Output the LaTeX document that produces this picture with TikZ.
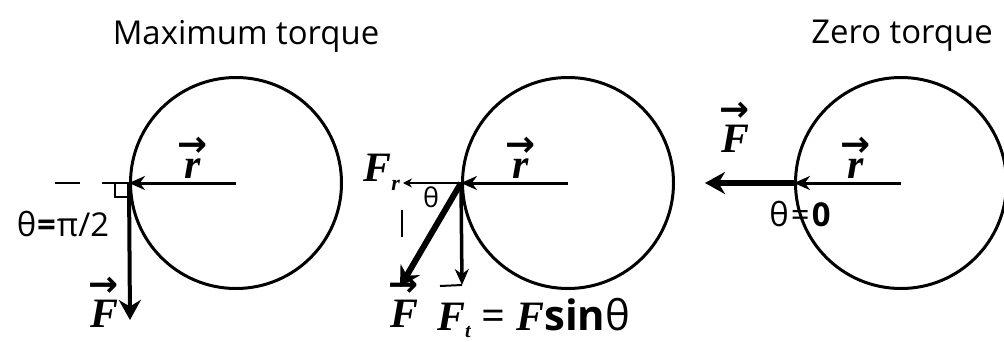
\documentclass[tikz,border=0pt]{standalone}
\usepackage{fontspec}
\setmainfont{Open Sans}
\newfontfamily\vecfont{Liberation Serif}
\newfontfamily\arrowfont{DejaVu Sans}
\usetikzlibrary{arrows.meta}

\newcommand{\bfi}[1]{{\vecfont\bfseries\itshape #1}}
\newcommand{\vbf}[2][-24bp]{\begin{tabular}{@{}c@{}}\fontsize{36}{36}\selectfont\arrowfont\bfseries →\\[#1]\bfi{#2}\end{tabular}}

\tikzset{
  wheel/.style={draw, circle, line width=3bp, minimum size=211bp, inner sep=0pt},
  rvec/.style={line width=3bp, -{Stealth[length=16bp,width=14bp]}},
  fvec/.style={line width=6bp, -{Stealth[length=20bp,width=22bp]}},
  compvec/.style={line width=3.5bp, -{Stealth[length=16bp,width=14bp]}},
  thinvec/.style={line width=2bp, -{Stealth[length=9bp,width=9bp]}},
  tick/.style={line width=2bp},
  title/.style={font=\fontsize{33}{40}\selectfont},
  lbl/.style={font=\fontsize{42}{46}\selectfont, inner sep=0pt},
  small/.style={font=\fontsize{33}{36}\selectfont, inner sep=0pt}
}

\begin{document}
\begin{tikzpicture}[x=1bp, y=-1bp]
  \useasboundingbox (0,0) rectangle (1004,341);

  % titles
  \node[title] (tmax) at (246,36) {Maximum torque};
  \node[title] (tzero) at (902,36) {Zero torque};

  % the three wheels
  \node[wheel] (c1) at (236,183) {};
  \node[wheel] (c2) at (568,183) {};
  \node[wheel] (c3) at (901,183) {};

  % maximum torque
  \coordinate (f1) at (130,320);
  \draw[fvec, line width=4bp] (c1.west) -- (f1);
  \draw[rvec] (c1.center) -- (c1.west);
  \draw[tick] (c1.west) -- ++(-27,0);
  \draw[tick] (55,183) -- (80,183);
  \draw[line width=1.5bp] (c1.west) -- ++(0,14) -- ++(-14,0) -- ++(0,-14);
  \node[lbl] (r1) at (193,158) {\vbf{r}};
  \node[lbl] (F1) at (104,303) {\vbf[-15bp]{F}};
  \node[small] (th1) at (63,224) {θ\kern1bp\textbf{=}\kern1bpπ/2};

  % general case
  \coordinate (f2) at (400,287);
  \coordinate (ft) at (462,285);
  \coordinate (fr) at (403,183);
  \draw[compvec] (c2.west) -- (ft);
  \draw[thinvec] (c2.west) -- (fr);
  \draw[fvec] (c2.west) -- (f2);
  \draw[rvec] (c2.center) -- (c2.west);
  \draw[tick] (402,210) -- (402,237);
  \draw[tick] (440,286) -- (ft);
  \node[lbl] (r2) at (521,158) {\vbf{r}};
  \node[lbl, anchor=east] (Fr) at (400,172) {\bfi{F}\raisebox{-9bp}{\fontsize{22}{24}\selectfont\bfi{r}}};
  \node[small, font=\fontsize{27}{30}\selectfont] (th2) at (431,197) {θ};
  \node[lbl] (F2) at (404,303) {\vbf[-15bp]{F}};
  \node[lbl, anchor=west] (Ft) at (437,318) {\bfi{F}\raisebox{-7bp}{\fontsize{20}{22}\selectfont\bfi{t}} = \bfi{F}\textbf{sin}θ};

  % zero torque
  \coordinate (f3) at (705,183);
  \draw[fvec] (c3.west) -- (f3);
  \draw[rvec] (c3.center) -- (c3.west);
  \node[lbl] (r3) at (856,158) {\vbf{r}};
  \node[lbl] (F3) at (735,128) {\vbf[-15bp]{F}};
  \node[small] (th3) at (800,214) {θ\kern2bp=\kern2bp\textbf{0}};
\end{tikzpicture}
\end{document}
